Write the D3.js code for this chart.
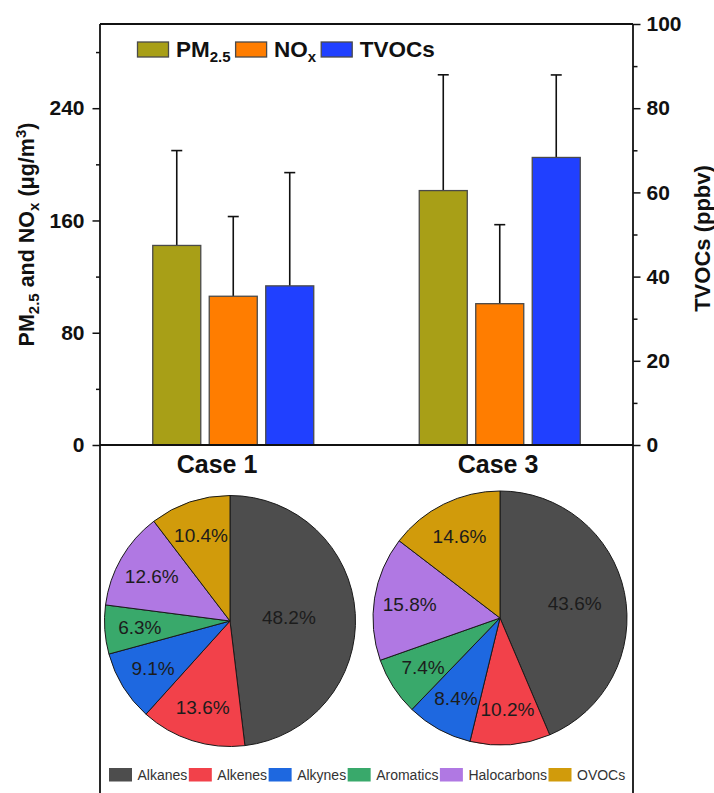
<!DOCTYPE html>
<html>
<head>
<meta charset="utf-8">
<script src="https://cdn.jsdelivr.net/npm/d3@7"></script>
<style>
  body { margin: 0; background: #fff; }
  svg { display: block; }
  text { font-family: "Liberation Sans", Arial, sans-serif; }
</style>
</head>
<body>
<svg id="chart" width="714" height="793"></svg>
<script>
// ---- data ----
const cases = ["Case 1", "Case 3"];
const pm25 = [142.2, 181.3];
const pm25Err = [67.6, 82.5];
const nox = [106.0, 100.7];
const noxErr = [56.8, 56.3];
const tvocs = [37.8, 68.3];
const tvocsErr = [26.9, 19.6];

const leftTicks = [0, 80, 160, 240];
const leftMinorTicks = [40, 120, 200, 280];
const rightTicks = [0, 20, 40, 60, 80, 100];
const rightMinorTicks = [10, 30, 50, 70, 90];

const vocGroups = ["Alkanes", "Alkenes", "Alkynes", "Aromatics", "Halocarbons", "OVOCs"];
const case1Shares = [48.2, 13.6, 9.1, 6.3, 12.6, 10.4];
const case3Shares = [43.6, 10.2, 8.4, 7.4, 15.8, 14.6];

// ---- styling ----
const seriesColors = { pm: "#a89f17", nox: "#ff7d00", tvoc: "#2040ff" };
const vocColors = ["#4d4d4d", "#f2414a", "#1e68e0", "#39a96b", "#b078e3", "#d19b0b"];

const svg = d3.select("#chart");
const W = 714, H = 793;
const plot = { left: 100, right: 633, top: 24, bottom: 445 };

const yLeft = d3.scaleLinear().domain([0, 300]).range([plot.bottom, plot.top]);
const yRight = d3.scaleLinear().domain([0, 100]).range([plot.bottom, plot.top]);
const x = d3.scaleBand().domain(cases).range([plot.left, plot.right]).padding(0);

const series = [
  { key: "pm", values: pm25, errors: pm25Err, scale: yLeft },
  { key: "nox", values: nox, errors: noxErr, scale: yLeft },
  { key: "tvoc", values: tvocs, errors: tvocsErr, scale: yRight }
];
const xInner = d3.scaleBand().domain(series.map(s => s.key)).range([-80.5, 80.5]).paddingInner(0.15);

// ---- bars ----
const gBars = svg.append("g");
series.forEach(s => {
  cases.forEach((c, i) => {
    const cx = x(c) + x.bandwidth() / 2;
    const bx = cx + xInner(s.key);
    const top = s.scale(s.values[i]);
    const errTop = s.scale(s.values[i] + s.errors[i]);
    const mid = bx + xInner.bandwidth() / 2;
    gBars.append("line")
      .attr("x1", mid).attr("x2", mid)
      .attr("y1", top).attr("y2", errTop)
      .attr("stroke", "#111").attr("stroke-width", 1.6);
    gBars.append("line")
      .attr("x1", mid - 5.5).attr("x2", mid + 5.5)
      .attr("y1", errTop).attr("y2", errTop)
      .attr("stroke", "#111").attr("stroke-width", 1.6);
    gBars.append("rect")
      .attr("x", bx).attr("y", top)
      .attr("width", xInner.bandwidth())
      .attr("height", plot.bottom - top)
      .attr("fill", seriesColors[s.key])
      .attr("stroke", "#4a4a4a").attr("stroke-width", 1.3);
  });
});

// ---- frame and axes ----
const axisFont = g => g.selectAll("text")
  .attr("font-size", 21).attr("font-weight", "bold").attr("fill", "#111")
  .attr("font-family", "Liberation Sans, Arial, sans-serif");

svg.append("g").attr("transform", `translate(${plot.left},0)`)
  .call(d3.axisLeft(yLeft).tickValues(leftMinorTicks).tickFormat("").tickSize(4).tickSizeOuter(0))
  .call(g => g.select(".domain").remove())
  .call(g => g.selectAll("line").attr("stroke", "#111").attr("stroke-width", 1.5));
svg.append("g").attr("transform", `translate(${plot.left},0)`)
  .call(d3.axisLeft(yLeft).tickValues(leftTicks).tickSize(7.5).tickPadding(8).tickSizeOuter(0))
  .call(g => g.select(".domain").remove())
  .call(g => g.selectAll("line").attr("stroke", "#111").attr("stroke-width", 1.5))
  .call(axisFont);

svg.append("g").attr("transform", `translate(${plot.right},0)`)
  .call(d3.axisRight(yRight).tickValues(rightMinorTicks).tickFormat("").tickSize(4.5).tickSizeOuter(0))
  .call(g => g.select(".domain").remove())
  .call(g => g.selectAll("line").attr("stroke", "#111").attr("stroke-width", 1.5));
svg.append("g").attr("transform", `translate(${plot.right},0)`)
  .call(d3.axisRight(yRight).tickValues(rightTicks).tickSize(7.5).tickPadding(6).tickSizeOuter(0))
  .call(g => g.select(".domain").remove())
  .call(g => g.selectAll("line").attr("stroke", "#111").attr("stroke-width", 1.5))
  .call(axisFont);

// outline: top border, baseline, and side lines running down past the pies
const frame = svg.append("g").attr("stroke", "#111").attr("stroke-width", 1.8).attr("fill", "none");
frame.append("line").attr("x1", plot.left).attr("x2", plot.right).attr("y1", plot.top).attr("y2", plot.top);
frame.append("line").attr("x1", plot.left).attr("x2", plot.right).attr("y1", plot.bottom).attr("y2", plot.bottom);
frame.append("line").attr("x1", plot.left).attr("x2", plot.left).attr("y1", plot.top).attr("y2", H + 2);
frame.append("line").attr("x1", plot.right).attr("x2", plot.right).attr("y1", plot.top).attr("y2", H + 2);

// ---- axis titles ----
const leftTitle = svg.append("text")
  .attr("transform", `translate(34,${(plot.top + plot.bottom) / 2}) rotate(-90)`)
  .attr("text-anchor", "middle").attr("font-size", 21.5).attr("font-weight", "bold").attr("fill", "#111");
leftTitle.append("tspan").text("PM");
leftTitle.append("tspan").attr("font-size", 15).attr("dy", 5).text("2.5");
leftTitle.append("tspan").attr("dy", -5).text(" and NO");
leftTitle.append("tspan").attr("font-size", 15).attr("dy", 5).text("x");
leftTitle.append("tspan").attr("dy", -5).text(" (μg/m");
leftTitle.append("tspan").attr("font-size", 15).attr("dy", -8).text("3");
leftTitle.append("tspan").attr("dy", 8).text(")");

svg.append("text")
  .attr("transform", `translate(710,${(plot.top + plot.bottom) / 2 + 4}) rotate(-90)`)
  .attr("text-anchor", "middle").attr("font-size", 22).attr("font-weight", "bold").attr("fill", "#111")
  .text("TVOCs (ppbv)");

// ---- bar legend ----
const barLegend = [
  { key: "pm", main: "PM", sub: "2.5" },
  { key: "nox", main: "NO", sub: "x" },
  { key: "tvoc", main: "TVOCs", sub: "" }
];
let lx = 137.5;
const ly = 42;
barLegend.forEach(item => {
  svg.append("rect").attr("x", lx).attr("y", ly).attr("width", 31).attr("height", 15)
    .attr("fill", seriesColors[item.key]).attr("stroke", "#4a4a4a").attr("stroke-width", 1.3);
  const t = svg.append("text").attr("x", lx + 38.5).attr("y", ly + 15)
    .attr("font-size", 22.5).attr("font-weight", "bold").attr("fill", "#111");
  t.append("tspan").text(item.main);
  if (item.sub) t.append("tspan").attr("font-size", 15).attr("dy", 5).text(item.sub);
  lx += 38.5 + t.node().getComputedTextLength() + 5;
});

// ---- pies ----
const panels = [
  { name: cases[0], shares: case1Shares, cx: 230, cy: 621, r: 125.5, titleX: 217, majorLabel: 0.47 },
  { name: cases[1], shares: case3Shares, cx: 500, cy: 618, r: 127, titleX: 498, majorLabel: 0.6 }
];
const pie = d3.pie().sort(null).value(d => d);

panels.forEach(p => {
  svg.append("text").attr("x", p.titleX).attr("y", 473)
    .attr("text-anchor", "middle").attr("font-size", 25).attr("font-weight", "bold").attr("fill", "#111")
    .text(p.name);

  const g = svg.append("g").attr("transform", `translate(${p.cx},${p.cy})`);
  const arcs = pie(p.shares);
  const arc = d3.arc().innerRadius(0).outerRadius(p.r);
  g.selectAll("path").data(arcs).join("path")
    .attr("d", arc)
    .attr("fill", (d, i) => vocColors[i])
    .attr("stroke", "#1a1a1a").attr("stroke-width", 1);

  g.selectAll("text").data(arcs).join("text")
    .attr("transform", d => {
      const k = d.data > 40 ? p.majorLabel : 0.72;
      const lab = d3.arc().innerRadius(p.r * k).outerRadius(p.r * k);
      return `translate(${lab.centroid(d)})`;
    })
    .attr("text-anchor", "middle").attr("dy", "0.36em")
    .attr("font-size", 19).attr("fill", "#1c1c1c")
    .text(d => d.data.toFixed(1) + "%");
});

// ---- composition legend ----
let vx = 109;
const vy = 768;
vocGroups.forEach((name, i) => {
  svg.append("rect").attr("x", vx).attr("y", vy).attr("width", 23).attr("height", 13.5)
    .attr("fill", vocColors[i]);
  const t = svg.append("text").attr("x", vx + 28.5).attr("y", vy + 12)
    .attr("font-size", 14).attr("fill", "#333").text(name);
  vx += 28.5 + t.node().getComputedTextLength() + 1.5;
});
</script>
</body>
</html>
